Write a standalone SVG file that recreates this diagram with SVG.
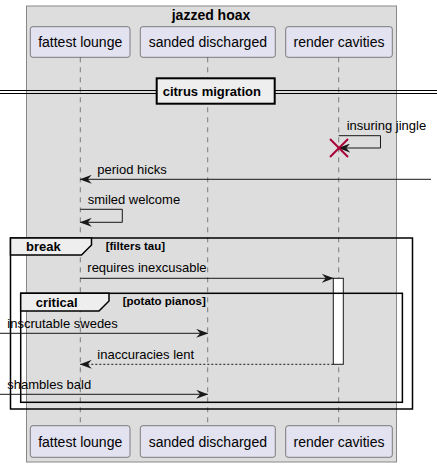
<svg xmlns="http://www.w3.org/2000/svg" width="437" height="467" viewBox="0 0 437 467">
<defs>
<style>
text{font-family:"Liberation Sans",Arial,sans-serif;fill:#000}
.p{font-size:14px;text-anchor:middle}
.m{font-size:13px}
.b{font-weight:bold;font-size:13px}
.g{font-weight:bold;font-size:11.5px}
.pb{fill:#E2E2F0;stroke:#181818;stroke-width:0.5}
.ll{stroke:#181818;stroke-width:0.5;stroke-dasharray:5,5;fill:none}
.msg{stroke:#181818;stroke-width:1;fill:none}
.dash{stroke-dasharray:2,2}
.fr{fill:none;stroke:#000;stroke-width:1.5}
.tab{fill:#EEEEEE;stroke:#000;stroke-width:1.5}
</style>
<marker id="ah" viewBox="0 0 12 9" refX="11.5" refY="4.5" markerWidth="12" markerHeight="9" markerUnits="userSpaceOnUse" orient="auto">
<polygon points="0,0 12,4.5 0,9 4,4.5" fill="#181818"/>
</marker>
</defs>
<g id="box-jazzed-hoax">
<rect x="26.5" y="6" width="370" height="456" fill="#DDDDDD" stroke="#888" stroke-width="1"/>
<text x="211" y="19.5" class="b" style="font-size:14px" text-anchor="middle">jazzed hoax</text>
</g>
<g id="lifelines">
<line class="ll" x1="80.3" y1="57.3" x2="80.3" y2="425.7"/>
<line class="ll" x1="207.7" y1="57.3" x2="207.7" y2="425.7"/>
<line class="ll" x1="338.7" y1="57.3" x2="338.7" y2="425.7"/>
</g>
<g id="fattest-lounge">
<rect class="pb" x="30.3" y="26.7" width="99.7" height="30.6" rx="2.5"/>
<text class="p" x="80.2" y="47">fattest lounge</text>
<rect class="pb" x="30.3" y="425.7" width="99.7" height="31.6" rx="2.5"/>
<text class="p" x="80.2" y="446.5">fattest lounge</text>
</g>
<g id="sanded-discharged">
<rect class="pb" x="140.3" y="26.7" width="135" height="30.6" rx="2.5"/>
<text class="p" x="207.8" y="47">sanded discharged</text>
<rect class="pb" x="140.3" y="425.7" width="135" height="31.6" rx="2.5"/>
<text class="p" x="207.8" y="446.5">sanded discharged</text>
</g>
<g id="render-cavities">
<rect class="pb" x="285.7" y="26.7" width="106.6" height="30.6" rx="2.5"/>
<text class="p" x="339" y="47">render cavities</text>
<rect class="pb" x="285.7" y="425.7" width="106.6" height="31.6" rx="2.5"/>
<text class="p" x="339" y="446.5">render cavities</text>
<rect x="333.3" y="278.3" width="10" height="86" fill="#FFFFFF" stroke="#181818" stroke-width="1"/>
</g>
<g id="divider-citrus-migration">
<line x1="0" y1="90.5" x2="156.7" y2="90.5" stroke="#000" stroke-width="1"/>
<line x1="0" y1="93.5" x2="156.7" y2="93.5" stroke="#000" stroke-width="1"/>
<line x1="274.7" y1="90.5" x2="437" y2="90.5" stroke="#000" stroke-width="1"/>
<line x1="274.7" y1="93.5" x2="437" y2="93.5" stroke="#000" stroke-width="1"/>
<rect x="156.7" y="78.3" width="118" height="25.4" fill="#EEEEEE" stroke="#000" stroke-width="2"/>
<text class="b" x="162.7" y="96">citrus migration</text>
</g>
<g id="frame-break">
<rect class="fr" x="10.5" y="238" width="402" height="171"/>
<polygon class="tab" points="10.5,238 91.5,238 91.5,245 81.5,255 10.5,255"/>
<text class="b" x="26" y="251">break</text>
<text class="g" x="105.7" y="249.5">[filters tau]</text>
</g>
<g id="frame-critical">
<rect class="fr" x="20.7" y="293.3" width="381.7" height="109"/>
<polygon class="tab" points="20.7,293.3 109,293.3 109,301 99,311 20.7,311"/>
<text class="b" x="35.7" y="306.5">critical</text>
<text class="g" x="122.7" y="305">[potato pianos]</text>
</g>
<g id="connectors">
<polyline class="msg" points="338.7,135.7 380.5,135.7 380.5,148 338.7,148" marker-end="url(#ah)"/>
<text class="m" x="346.7" y="130">insuring jingle</text>
<g stroke="#A80036" stroke-width="2">
<line x1="330" y1="139" x2="348" y2="157"/>
<line x1="348" y1="139" x2="330" y2="157"/>
</g>
<line class="msg" x1="431" y1="179.3" x2="80.3" y2="179.3" marker-end="url(#ah)"/>
<text class="m" x="97.3" y="173.5">period hicks</text>
<polyline class="msg" points="80.3,209.3 122.3,209.3 122.3,222.3 80.3,222.3" marker-end="url(#ah)"/>
<text class="m" x="87.7" y="204">smiled welcome</text>
<line class="msg" x1="80.3" y1="278.3" x2="333.3" y2="278.3" marker-end="url(#ah)"/>
<text class="m" x="87.3" y="272.3">requires inexcusable</text>
<line class="msg" x1="0" y1="333.3" x2="207.7" y2="333.3" marker-end="url(#ah)"/>
<text class="m" x="7.3" y="327.8">inscrutable swedes</text>
<line class="msg dash" x1="333.3" y1="364.3" x2="80.3" y2="364.3" marker-end="url(#ah)"/>
<text class="m" x="97.3" y="358.5">inaccuracies lent</text>
<line class="msg" x1="0" y1="394.3" x2="207.7" y2="394.3" marker-end="url(#ah)"/>
<text class="m" x="7.3" y="388.7">shambles bald</text>
</g>
</svg>
